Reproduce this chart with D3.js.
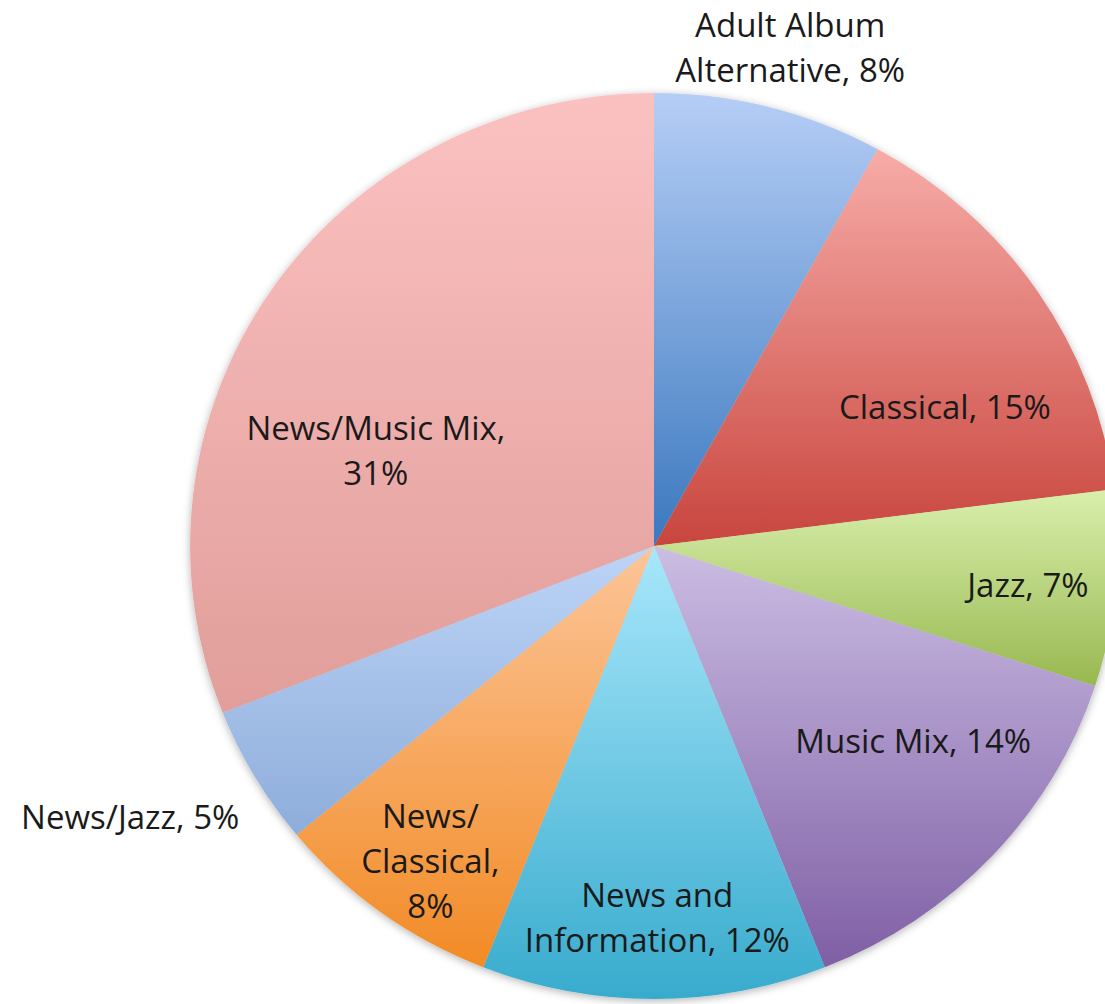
<!DOCTYPE html>
<html>
<head>
<meta charset="utf-8">
<script src="https://cdn.jsdelivr.net/npm/d3@7"></script>
<style>
  html, body { margin: 0; padding: 0; background: #ffffff; }
  svg { display: block; }
  text { font-family: "Open Sans", Lato, sans-serif; fill: #1a1a1a; }
</style>
</head>
<body>
<svg id="chart" width="1105" height="1004"></svg>
<script>
// ---- data ----
const categories = [
  "Adult Album Alternative",
  "Classical",
  "Jazz",
  "Music Mix",
  "News and Information",
  "News/Classical",
  "News/Jazz",
  "News/Music Mix"
];
const shares = [8, 15, 7, 14, 12, 8, 5, 31];
const labelLines = [
  ["Adult Album", "Alternative, 8%"],
  ["Classical, 15%"],
  ["Jazz, 7%"],
  ["Music Mix, 14%"],
  ["News and", "Information, 12%"],
  ["News/", "Classical,", "8%"],
  ["News/Jazz, 5%"],
  ["News/Music Mix,", "31%"]
];

// ---- styling (separate from data) ----
const gradientStops = [
  ["#b6cef6", "#3a78be"],
  ["#f7aca8", "#c8453d"],
  ["#d9efac", "#98b850"],
  ["#cbbde3", "#7f5fa5"],
  ["#a8e7fb", "#38abcd"],
  ["#fcc598", "#f28b26"],
  ["#bdd4f7", "#8dadda"],
  ["#fbc1c1", "#e19e9a"]
];
// label placement: angle (deg, clockwise from 12 o'clock) and distance from centre in px
const labelPlacement = [
  { angle: 15.3, dist: 516 },
  { angle: 64.6, dist: 322 },
  { angle: 96.0, dist: 376 },
  { angle: 127.1, dist: 325 },
  { angle: 179.5, dist: 372 },
  { angle: 215.3, dist: 387 },
  { angle: 242.6, dist: 590 },
  { angle: 288.9, dist: 294 }
];

const cx = 654, cy = 546, radius = 453, xStretch = 1.024;
const fontSize = 33, lineHeight = 45;

const svg = d3.select("#chart");
const defs = svg.append("defs");

categories.forEach((c, i) => {
  const g = defs.append("linearGradient")
    .attr("id", "grad" + i)
    .attr("x1", 0).attr("y1", 0).attr("x2", 0).attr("y2", 1);
  g.append("stop").attr("offset", "0%").attr("stop-color", gradientStops[i][0]);
  g.append("stop").attr("offset", "100%").attr("stop-color", gradientStops[i][1]);
});

const filter = defs.append("filter").attr("id", "shadow")
  .attr("x", "-10%").attr("y", "-10%").attr("width", "120%").attr("height", "120%");
filter.append("feDropShadow")
  .attr("dx", 0).attr("dy", 2).attr("stdDeviation", 4)
  .attr("flood-color", "#000").attr("flood-opacity", 0.3);

const data = categories.map((c, i) => ({ category: c, value: shares[i], lines: labelLines[i], idx: i }));

const pie = d3.pie().value(d => d.value).sort(null);
const arc = d3.arc().innerRadius(0).outerRadius(radius);
const arcs = pie(data);

const pieGroup = svg.append("g")
  .attr("transform", `translate(${cx},${cy}) scale(${xStretch},1)`)
  .attr("filter", "url(#shadow)");

pieGroup.selectAll("path.slice")
  .data(arcs)
  .join("path")
  .attr("class", "slice")
  .attr("d", arc)
  .attr("fill", d => `url(#grad${d.data.idx})`);

const labelGroup = svg.append("g").attr("transform", `translate(${cx},${cy})`);

arcs.forEach(d => {
  const p = labelPlacement[d.data.idx];
  const a = p.angle * Math.PI / 180;
  const x = Math.sin(a) * p.dist;
  const y = -Math.cos(a) * p.dist;
  const n = d.data.lines.length;
  const t = labelGroup.append("text")
    .attr("text-anchor", "middle")
    .attr("font-size", fontSize);
  d.data.lines.forEach((line, k) => {
    t.append("tspan")
      .attr("x", x)
      .attr("y", y + (k - (n - 1) / 2) * lineHeight + fontSize * 0.34)
      .text(line);
  });
});
</script>
</body>
</html>
